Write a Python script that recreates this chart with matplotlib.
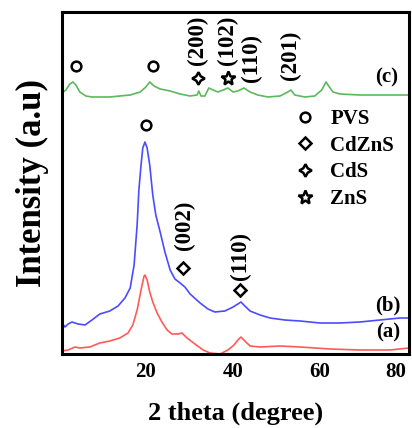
import matplotlib
matplotlib.use("Agg")
import matplotlib.pyplot as plt
from matplotlib.lines import Line2D

plt.rcParams['font.family'] = ['Liberation Serif', 'DejaVu Serif']
plt.rcParams['font.weight'] = 'bold'

# ---- data (2theta in degree, intensity in arbitrary units) ----
x_a = [0.7, 2.1, 3.7, 4.8, 7.1, 9.4, 11.7, 14.0, 15.9, 17.0, 18.0, 18.9, 19.6, 19.8, 20.3,
       20.9, 21.6, 22.6, 23.7, 24.9, 26.0, 27.4, 28.3, 29.5, 31.3, 33.2, 34.8, 37.1, 38.9,
       40.3, 41.2, 41.9, 42.8, 44.0, 46.3, 50.9, 55.5, 62.4, 69.3, 76.2, 80.6]
y_a = [3, 4, 7, 6, 7, 11, 13, 16, 21, 29, 44, 64, 78, 79, 74,
       62, 52, 41, 32, 24, 20, 20, 21, 16, 10, 4, 1, 0, 4,
       9, 14, 17, 13, 8, 7, 8, 7, 5, 4, 4, 6]

x_b = [0.7, 1.4, 2.1, 3.0, 4.4, 6.0, 7.6, 9.4, 11.7, 13.6, 15.2, 16.4, 17.3, 18.0, 18.4,
       18.9, 19.3, 19.8, 20.3, 20.9, 21.6, 22.3, 23.3, 24.4, 25.6, 26.7, 27.9, 29.0, 30.2,
       32.5, 34.3, 35.9, 38.2, 40.1, 41.2, 41.9, 42.8, 44.0, 46.3, 48.6, 52.0, 55.5, 60.1,
       64.7, 69.3, 73.9, 78.5, 80.6]
y_b = [31, 27, 30, 32, 30, 29, 34, 40, 43, 48, 56, 66, 89, 129, 164,
       189, 206, 212, 206, 189, 159, 139, 122, 102, 84, 75, 71, 67, 60,
       51, 45, 42, 43, 47, 50, 52, 48, 43, 39, 36, 34, 33, 31,
       31, 32, 34, 36, 36]

x_c = [0.7, 1.6, 2.5, 3.2, 3.9, 4.8, 6.2, 7.6, 9.4, 11.7, 14.0, 16.4, 18.7, 20.0, 20.9,
       21.9, 23.3, 25.6, 27.9, 30.2, 31.8, 32.2, 32.7, 33.6, 34.5, 35.5, 36.6, 37.8, 38.9,
       40.1, 41.2, 42.6, 44.0, 45.8, 48.1, 50.9, 52.7, 53.4, 54.3, 56.6, 58.9, 60.5, 61.5,
       62.1, 63.1, 64.7, 69.3, 73.9, 80.6]
y_c = [261, 264, 270, 272, 269, 262, 258, 257, 257, 257, 258, 259, 262, 267, 272,
       268, 265, 263, 260, 258, 259, 263, 258, 258, 266, 264, 262, 264, 266,
       262, 263, 266, 262, 259, 257, 258, 262, 264, 259, 257, 258, 264, 272,
       268, 262, 260, 259, 259, 259]

# phase markers (x, y)
pvs_x = [3.9, 21.6, 20.0]
pvs_y = [288, 288, 229]
cdzns_x = [28.6, 41.7]
cdzns_y = [86, 64]
cds_x = [32.0]
cds_y = [276]
zns_x = [38.9]
zns_y = [276]

# hkl labels (text, x, y-bottom)
hkl_labels = [("(200)", 32.0, 289), ("(102)", 38.9, 289), ("(110)", 44.4, 272),
              ("(201)", 53.2, 274), ("(002)", 29.0, 104), ("(110)", 41.7, 74)]
curve_labels = [("(c)", 75.5, 277), ("(b)", 75.7, 49), ("(a)", 75.7, 22)]

xticks = [20, 40, 60, 80]
legend_names = ["PVS", "CdZnS", "CdS", "ZnS"]

# ---- figure ----
fig = plt.figure(figsize=(4.12, 4.28), dpi=100)
ax = fig.add_axes([62/412, 1-354/428, 347/412, 342/428])

ax.plot(x_a, y_a, color='#ff5a5a', lw=1.2)
ax.plot(x_b, y_b, color='#4b4bff', lw=1.2)
ax.plot(x_c, y_c, color='#5cb85c', lw=1.2)

mk = dict(linestyle='none', mfc='white', mec='black', mew=1.8)
ax.plot(pvs_x, pvs_y, marker='o', ms=7, **mk)
ax.plot(cdzns_x, cdzns_y, marker='D', ms=6, **mk)
ax.plot(cds_x, cds_y, marker=(4, 1, 0), ms=9, **mk)
ax.plot(zns_x, zns_y, marker='*', ms=10, **mk)

for t, x, y in hkl_labels:
    ax.text(x, y, t, rotation=90, ha='center', va='bottom', fontsize=16.5, fontweight='bold')
for t, x, y in curve_labels:
    ax.text(x, y, t, ha='center', va='center', fontsize=15, fontweight='bold')

handles = [Line2D([], [], marker='o', ms=7, **mk),
           Line2D([], [], marker='D', ms=6, **mk),
           Line2D([], [], marker=(4, 1, 0), ms=9, **mk),
           Line2D([], [], marker='*', ms=10, **mk)]
ax.legend(handles, legend_names, loc='upper left', bbox_to_anchor=(0.623, 0.771),
          frameon=False, handlelength=0.8, handletextpad=0.8, labelspacing=0.32,
          prop={'family': 'Liberation Serif', 'weight': 'bold', 'size': 15})

ax.set_xlim(0.7, 80.6)
ax.set_ylim(0, 342)
ax.set_xticks(xticks)
ax.set_xticklabels([str(v) for v in xticks])
ax.set_yticks([])
ax.tick_params(axis='x', length=0, pad=6, labelsize=15)
xl = ax.get_xticklabels()
for lab in xl:
    lab.set_fontweight('bold')
xl[-1].set_horizontalalignment('right')
for s in ax.spines.values():
    s.set_linewidth(2.2)

ax.set_xlabel("2 theta (degree)", fontsize=19, fontweight='bold', labelpad=14)
ax.set_ylabel("Intensity (a.u)", fontsize=25, fontweight='bold', labelpad=9)

fig.savefig("out.png", dpi=100)
